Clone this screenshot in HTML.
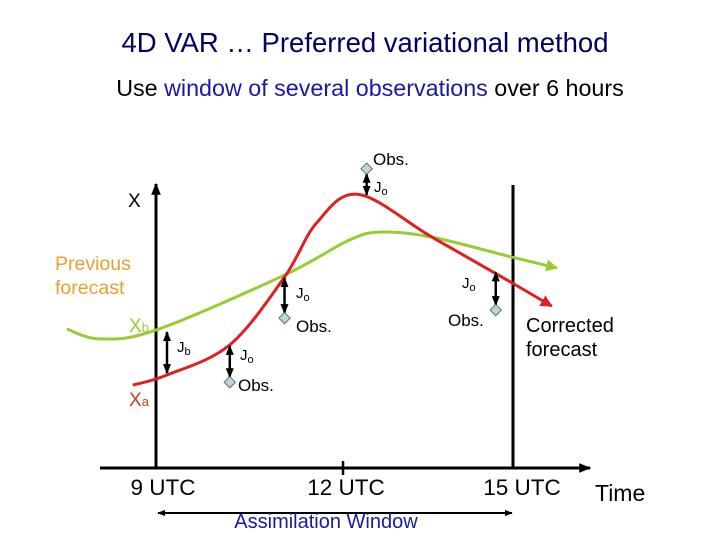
<!DOCTYPE html>
<html><head><meta charset="utf-8"><style>
body{margin:0;background:#fff}
svg{display:block;font-family:"Liberation Sans",sans-serif}
</style></head><body>
<svg id="chart" width="720" height="540" viewBox="0 0 720 540" xmlns="http://www.w3.org/2000/svg">
<defs>
<marker id="ab" viewBox="0 0 10 10" refX="9" refY="5" markerWidth="4" markerHeight="4" orient="auto-start-reverse"><path d="M0,1L10,5L0,9z" fill="#000"/></marker>
<marker id="ar" viewBox="0 0 10 10" refX="9" refY="5" markerWidth="4" markerHeight="4" orient="auto"><path d="M0,0L10,5L0,10z" fill="#e02020"/></marker>
<marker id="ag" viewBox="0 0 10 10" refX="9" refY="5" markerWidth="4" markerHeight="4" orient="auto"><path d="M0,0L10,5L0,10z" fill="#99cc33"/></marker>
</defs>
<text x="365" y="52" font-size="27.5" text-anchor="middle" fill="#000066">4D VAR … Preferred variational method</text>
<text x="370" y="96" font-size="23.3" text-anchor="middle" fill="#000">Use <tspan fill="#1a1aa0">window of several observations</tspan> over 6 hours</text>
<line x1="100" y1="468" x2="590" y2="468" stroke="#000" stroke-width="3" marker-end="url(#ab)"/>
<line x1="156" y1="468" x2="156" y2="184" stroke="#000" stroke-width="3" marker-end="url(#ab)"/>
<line x1="513" y1="468" x2="513" y2="185" stroke="#000" stroke-width="3"/>
<line x1="343" y1="461" x2="343" y2="475" stroke="#000" stroke-width="2.5"/>
<text x="163" y="495" font-size="22.5" text-anchor="middle">9 UTC</text>
<text x="346" y="495" font-size="22.5" text-anchor="middle">12 UTC</text>
<text x="522" y="495" font-size="22.5" text-anchor="middle">15 UTC</text>
<text x="595" y="501" font-size="23">Time</text>
<line x1="158" y1="513" x2="512" y2="513" stroke="#000" stroke-width="2" marker-start="url(#ab)" marker-end="url(#ab)"/>
<text x="326" y="528" font-size="20" text-anchor="middle" fill="#1a1aa0">Assimilation Window</text>
<text x="128" y="207" font-size="19">X</text>
<text font-size="19.5" fill="#e8a030"><tspan x="55" y="270">Previous</tspan><tspan x="55" y="294">forecast</tspan></text>
<text x="129" y="332" font-size="19" fill="#99cc33">X<tspan font-size="13">b</tspan></text>
<text x="129" y="406" font-size="19" fill="#d04020">X<tspan font-size="13">a</tspan></text>
<text font-size="20"><tspan x="526" y="332">Corrected</tspan><tspan x="526" y="356">forecast</tspan></text>
<g id="curves"></g>
<g id="obs"></g>
</svg>
<script>
const redT=[8.61,9.18,10.24,11.16,11.7,12.4,13.64,14.98,15.65];
const redV=[29.1,32.6,43.2,67,86,96,81,65,56.8];
const greenT=[7.5,8.06,9,11.16,12.25,12.8,13.64,14.98,15.74];
const greenV=[48.8,45.3,48.4,67.7,80,82.8,81,74,70.2];
const obsT=[10.24,11.16,12.54,14.71];
const obsV=[30.1,52.6,105,55.4];
const modelV=[43.2,67,95.5,69];
const obsNames=["obs-1","obs-2","obs-3","obs-4"];
const xS=t=>156+(t-9)*(513-156)/6;
const yS=v=>468-v*2.85;
const NS="http://www.w3.org/2000/svg";
function path(T,V){const p=T.map((t,i)=>[xS(t),yS(V[i])]);let d="M"+p[0];for(let i=0;i<p.length-1;i++){const a=p[i-1]||p[i],b=p[i],c=p[i+1],e=p[i+2]||c;d+=" C"+(b[0]+(c[0]-a[0])/6)+","+(b[1]+(c[1]-a[1])/6)+" "+(c[0]-(e[0]-b[0])/6)+","+(c[1]-(e[1]-b[1])/6)+" "+c;}return d;}
const g=document.getElementById("curves");
const gp=document.createElementNS(NS,"path");gp.setAttribute("d",path(greenT,greenV));gp.setAttribute("fill","none");gp.setAttribute("stroke","#99cc33");gp.setAttribute("stroke-width","3");gp.setAttribute("marker-end","url(#ag)");


g.appendChild(gp);
const rp=document.createElementNS(NS,"path");rp.setAttribute("d",path(redT,redV));rp.setAttribute("fill","none");rp.setAttribute("stroke","#e02020");rp.setAttribute("stroke-width","3");rp.setAttribute("marker-end","url(#ar)");


g.appendChild(rp);
function arrow(x,y1,y2,name){const l=document.createElementNS(NS,"line");l.setAttribute("x1",x);l.setAttribute("x2",x);l.setAttribute("y1",y1);l.setAttribute("y2",y2);l.setAttribute("stroke","#000");l.setAttribute("stroke-width","2.5");l.setAttribute("marker-start","url(#ab)");l.setAttribute("marker-end","url(#ab)");


g.appendChild(l);}
function txt(x,y,s,sub,name){const t=document.createElementNS(NS,"text");t.setAttribute("x",x);t.setAttribute("y",y);t.setAttribute("font-size",sub?"15":"17");t.textContent=s;if(sub){const ts=document.createElementNS(NS,"tspan");ts.setAttribute("font-size","11");ts.setAttribute("dy","3");ts.textContent=sub;t.appendChild(ts);}


g.appendChild(t);}
arrow(167,yS(48.4)+2,yS(32.6)-2,"jb-arrow");
txt(177,352,"J","b","jb-label");
const jo=[[240,360],[296,298],[374,192],[462,288]];
const ol=[[238,391],[296,332],[373,165],[448,326]];
const ob=document.getElementById("obs");
obsT.forEach((t,i)=>{const x=xS(t),yo=yS(obsV[i]),ym=yS(modelV[i]);
arrow(x,ym+(yo>ym?1:-1),yo+(yo>ym?-5:5),"jo-arrow-"+(i+1));
txt(jo[i][0],jo[i][1],"J","o","jo-label-"+(i+1));
txt(ol[i][0],ol[i][1],"Obs.",null,"obs-label-"+(i+1));
const d=document.createElementNS(NS,"rect");d.setAttribute("x",x-4);d.setAttribute("y",yo-4);d.setAttribute("width",8);d.setAttribute("height",8);d.setAttribute("fill","#b8d8d8");d.setAttribute("stroke","#607080");d.setAttribute("transform","rotate(45 "+x+" "+yo+")");


ob.appendChild(d);});
</script>
</body></html>
